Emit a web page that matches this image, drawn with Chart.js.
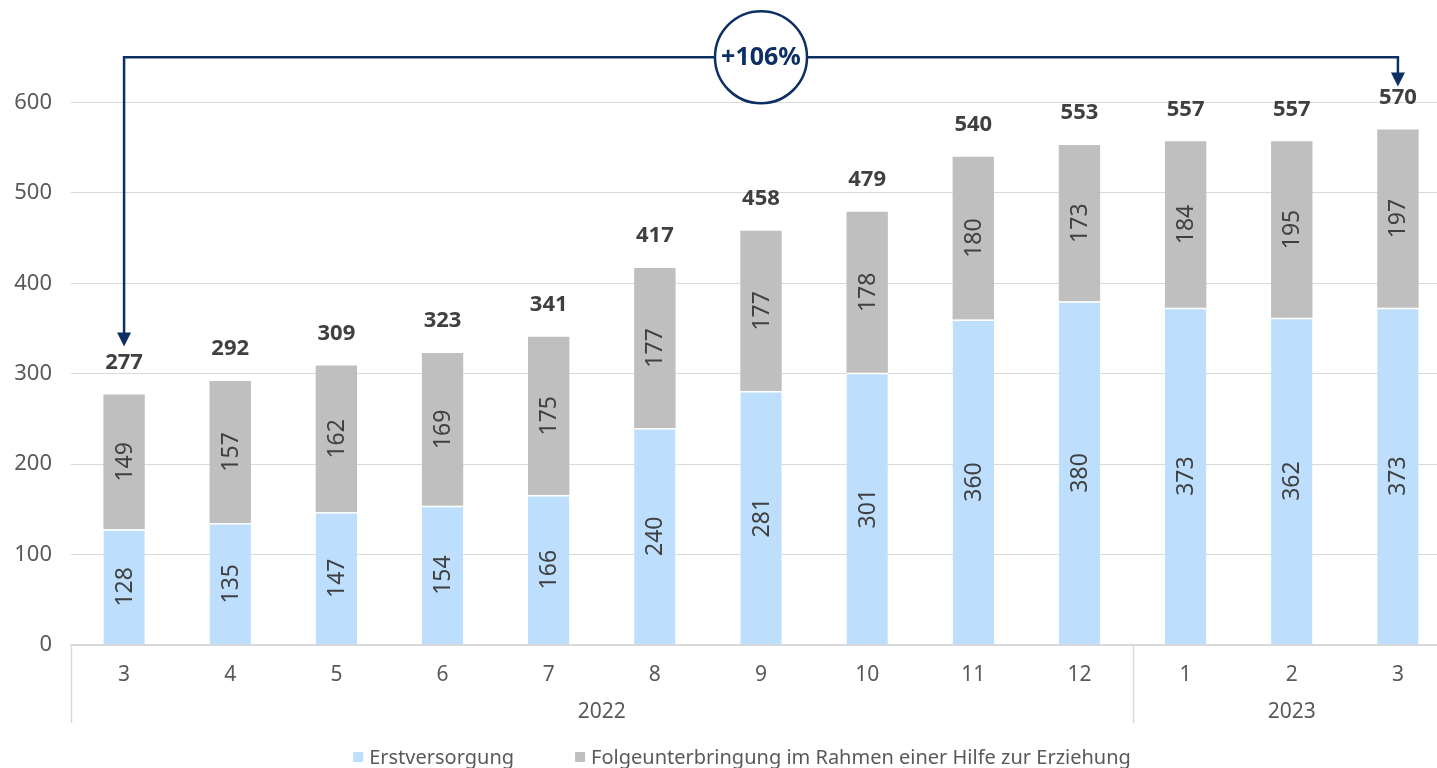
<!DOCTYPE html>
<html>
<head>
<meta charset="utf-8">
<script src="https://cdn.jsdelivr.net/npm/chart.js@4"></script>
<style>
  html, body { margin: 0; padding: 0; background: #fff; overflow: hidden; }
  #wrap { width: 1452px; height: 768px; position: relative; }
</style>
</head>
<body>
<div id="wrap"><canvas id="miGrafico"></canvas></div>
<script>
const monate = ['3', '4', '5', '6', '7', '8', '9', '10', '11', '12', '1', '2', '3'];
const jahre = ['2022', '2023'];
const monateProJahr = [10, 3];
const erstversorgung = [128, 135, 147, 154, 166, 240, 281, 301, 360, 380, 373, 362, 373];
const folgeunterbringung = [149, 157, 162, 169, 175, 177, 177, 178, 180, 173, 184, 195, 197];
const serienNamen = ['Erstversorgung', 'Folgeunterbringung im Rahmen einer Hilfe zur Erziehung'];

const summen = erstversorgung.map((v, i) => v + folgeunterbringung[i]);
const zuwachs = Math.round((summen[summen.length - 1] / summen[0] - 1) * 100);

const FONT = '"Noto Sans", sans-serif';
const NAVY = '#0e2f63';
const TEXT = '#404040';
const ACHSE = '#595959';

const beschriftungen = {
    id: 'beschriftungen',
    afterDatasetsDraw(chart) {
        const ctx = chart.ctx;
        const x = chart.scales.x, y = chart.scales.y;
        ctx.save();
        // Werte in den Balken
        chart.data.datasets.forEach((ds, di) => {
            const meta = chart.getDatasetMeta(di);
            meta.data.forEach((bar, i) => {
                const mid = (bar.y + bar.base) / 2;
                ctx.save();
                ctx.translate(bar.x + 1, mid);
                ctx.rotate(-Math.PI / 2);
                ctx.font = '23px ' + FONT;
                ctx.fillStyle = TEXT;
                ctx.textAlign = 'center';
                ctx.textBaseline = 'middle';
                ctx.fillText(String(ds.data[i]), 0, 0);
                ctx.restore();
            });
        });
        // Summen
        ctx.font = 'bold 22px ' + FONT;
        ctx.fillStyle = TEXT;
        ctx.textAlign = 'center';
        ctx.textBaseline = 'middle';
        summen.forEach((s, i) => {
            ctx.fillText(String(s), x.getPixelForValue(i), y.getPixelForValue(s) - 32);
        });

        // Jahres-Achse
        ctx.strokeStyle = '#d9d9d9';
        ctx.lineWidth = 1.5;
        const achseY = chart.chartArea.bottom;
        const unten = achseY + 78;
        const halb = (x.getPixelForValue(1) - x.getPixelForValue(0)) / 2;
        let start = 0;
        ctx.font = '21px ' + FONT;
        ctx.fillStyle = ACHSE;
        const grenzen = [x.getPixelForValue(0) - halb];
        monateProJahr.forEach((n, j) => {
            const l = x.getPixelForValue(start) - halb;
            const r = x.getPixelForValue(start + n - 1) + halb;
            ctx.fillText(jahre[j], (l + r) / 2, achseY + 67);
            grenzen.push(r);
            start += n;
        });
        grenzen.forEach(gx => {
            ctx.beginPath();
            ctx.moveTo(Math.round(gx) + 0.5, achseY);
            ctx.lineTo(Math.round(gx) + 0.5, unten);
            ctx.stroke();
        });

        // Pfeil +106%
        const x0 = x.getPixelForValue(0);
        const x1 = x.getPixelForValue(summen.length - 1);
        const yl = y.getPixelForValue(650);
        const tip0 = y.getPixelForValue(summen[0]) - 48;
        const tip1 = y.getPixelForValue(summen[summen.length - 1]) - 43;
        ctx.strokeStyle = NAVY;
        ctx.fillStyle = NAVY;
        ctx.lineWidth = 2.5;
        ctx.beginPath();
        ctx.moveTo(x0, tip0 - 12);
        ctx.lineTo(x0, yl);
        ctx.lineTo(x1, yl);
        ctx.lineTo(x1, tip1 - 12);
        ctx.stroke();
        [[x0, tip0], [x1, tip1]].forEach(([px, py]) => {
            ctx.beginPath();
            ctx.moveTo(px - 7, py - 14);
            ctx.lineTo(px + 7, py - 14);
            ctx.lineTo(px, py);
            ctx.closePath();
            ctx.fill();
        });
        const cx = (x0 + x1) / 2;
        ctx.beginPath();
        ctx.arc(cx, yl, 46, 0, Math.PI * 2);
        ctx.fillStyle = '#fff';
        ctx.fill();
        ctx.stroke();
        ctx.fillStyle = NAVY;
        ctx.font = 'bold 25px ' + FONT;
        ctx.textAlign = 'center';
        ctx.fillText('+' + zuwachs + '%', cx, yl + 1);

        // Legende
        ctx.font = '20px ' + FONT;
        ctx.textAlign = 'left';
        const box = 10, luecke = 6, abstand = 61;
        const breiten = serienNamen.map(t => box + luecke + ctx.measureText(t).width);
        const gesamt = breiten.reduce((a, b) => a + b, 0) + abstand;
        let lx = chart.width / 2 + 16 - gesamt / 2;
        const ly = 757;
        chart.data.datasets.forEach((ds, i) => {
            ctx.fillStyle = ds.backgroundColor;
            ctx.fillRect(lx, ly - box / 2, box, box);
            ctx.fillStyle = ACHSE;
            ctx.fillText(serienNamen[i], lx + box + luecke, ly + 1);
            lx += breiten[i] + abstand;
        });
        ctx.restore();
    }
};

new Chart(document.getElementById('miGrafico'), {
    type: 'bar',
    data: {
        labels: monate,
        datasets: [
            {
                label: serienNamen[0],
                data: erstversorgung,
                backgroundColor: '#bddffd',
                borderColor: '#ffffff',
                borderWidth: { top: 1.5, left: 0, right: 0, bottom: 0 },
                borderSkipped: false,
                barPercentage: 0.39,
                categoryPercentage: 1
            },
            {
                label: serienNamen[1],
                data: folgeunterbringung,
                backgroundColor: '#bfbfbf',
                borderWidth: 0,
                barPercentage: 0.39,
                categoryPercentage: 1
            }
        ]
    },
    options: {
        responsive: true,
        maintainAspectRatio: false,
        animation: false,
        layout: { padding: { top: 12, left: 0, right: 1, bottom: 45 } },
        plugins: {
            legend: { display: false },
            tooltip: { enabled: false }
        },
        scales: {
            x: {
                stacked: true,
                grid: { display: false },
                border: { color: '#d9d9d9', width: 1.5 },
                ticks: { font: { family: FONT, size: 21 }, color: ACHSE, padding: 9, maxRotation: 0, autoSkip: false },
                afterFit: s => { s.height = 78; }
            },
            y: {
                stacked: true,
                min: 0,
                max: 700,
                afterBuildTicks: s => { s.ticks = s.ticks.filter(t => t.value <= 600); },
                grid: { color: '#d9d9d9', drawTicks: false, lineWidth: 1 },
                border: { display: false },
                ticks: { stepSize: 100, font: { family: FONT, size: 22 }, color: ACHSE, padding: 19 },
                afterFit: s => { s.width = 71; s.paddingTop = 0; s.paddingBottom = 0; }
            }
        }
    },
    plugins: [beschriftungen]
});
</script>
</body>
</html>
